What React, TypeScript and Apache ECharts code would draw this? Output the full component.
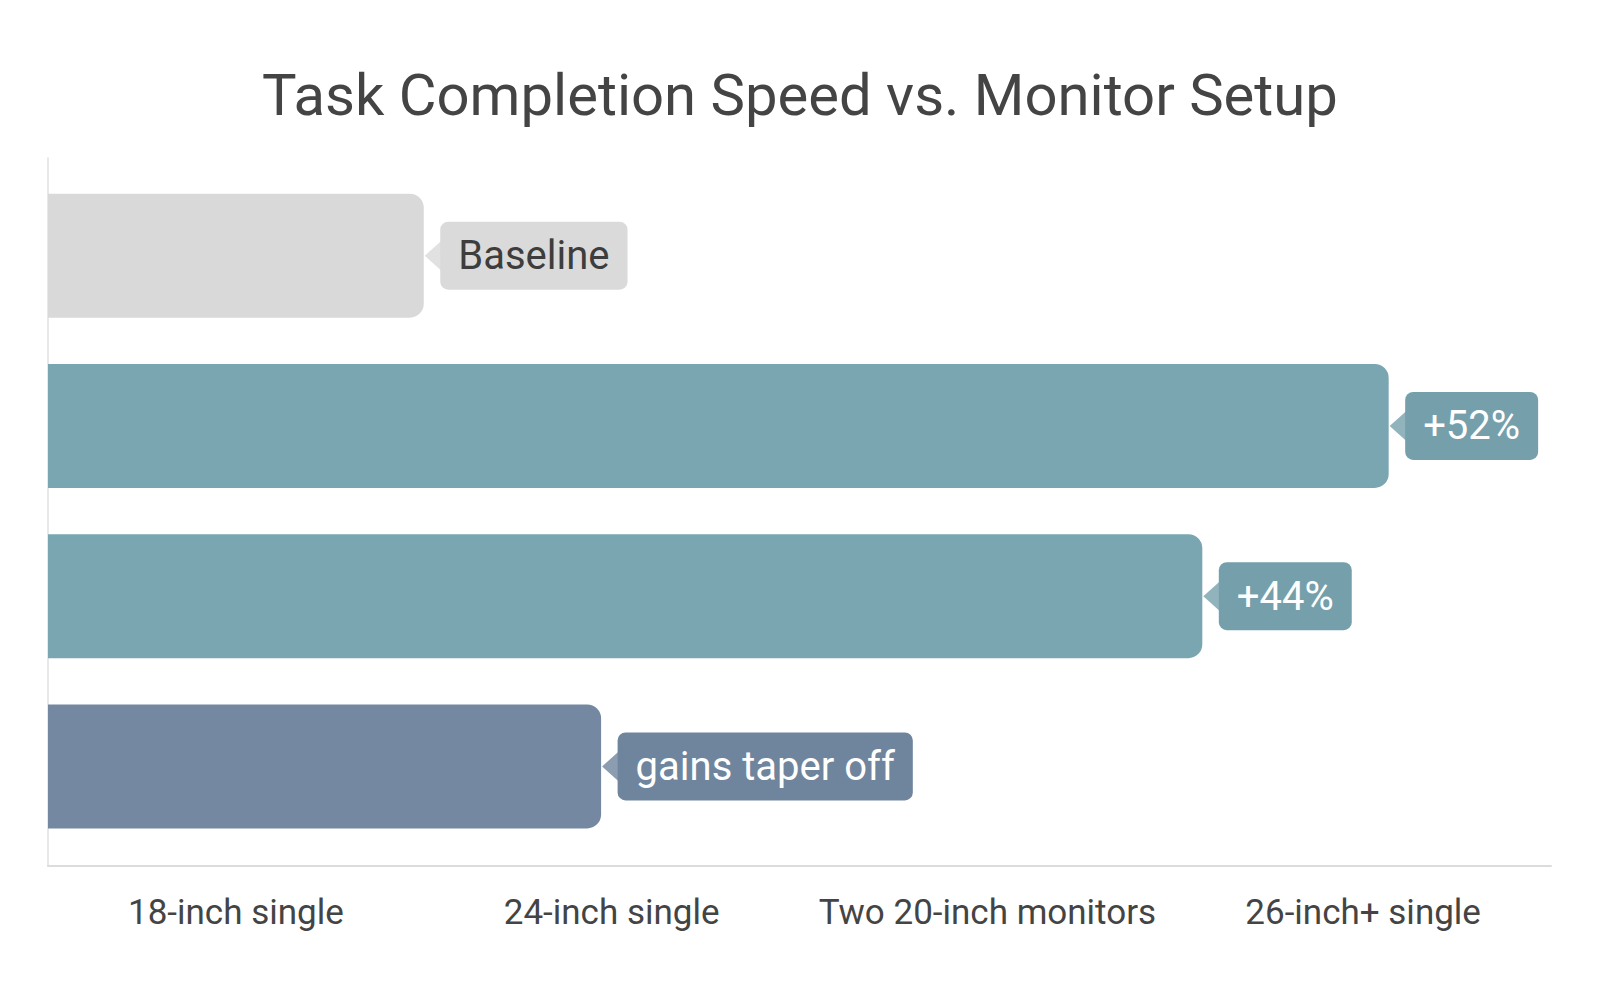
import React, { useEffect, useRef } from 'react';
import * as echarts from 'echarts';

// monitor setups, top bar first
const setups = ['18-inch single', '24-inch single', 'Two 20-inch monitors', '26-inch+ single'];
// bar lengths (share of the axis, 0-100)
const speeds = [25.0, 89.2, 76.8, 36.8];
const callouts = ['Baseline', '+52%', '+44%', 'gains taper off'];

const barColors = ['#d9d9d9', '#79a6b1', '#79a6b1', '#7489a1'];
const boxColors = ['#dadada', '#75a0ab', '#75a0ab', '#6f859d'];
const calloutText = ['#3d3d3d', '#ffffff', '#ffffff', '#ffffff'];

const App: React.FC = () => {
  const chartRef = useRef<HTMLDivElement>(null);

  useEffect(() => {
    document.body.style.margin = '0';
    if (!chartRef.current) return;
    const chart = echarts.init(chartRef.current, undefined, { renderer: 'svg' });

    const option: echarts.EChartsOption = {
      animation: false,
      backgroundColor: '#ffffff',
      textStyle: { fontFamily: 'Roboto' },
      title: {
        text: 'Task Completion Speed vs. Monitor Setup',
        left: 'center',
        top: 61,
        textStyle: {
          fontSize: 58,
          fontWeight: 'normal',
          color: '#444444',
          fontFamily: 'Roboto'
        }
      },
      grid: [
        // axis frame
        { left: 48, right: 49, top: 158, bottom: 134 },
        // bars
        { left: 48, right: 49, top: 170.5, bottom: 148.5 }
      ],
      xAxis: [
        {
          type: 'category',
          gridIndex: 0,
          data: setups,
          boundaryGap: true,
          axisLine: { show: true, lineStyle: { color: '#dcdcdc', width: 2 } },
          axisTick: { show: false },
          axisLabel: {
            color: '#444444',
            fontSize: 35,
            margin: 29,
            interval: 0,
            fontFamily: 'Roboto'
          },
          splitLine: { show: false }
        },
        {
          type: 'value',
          gridIndex: 1,
          min: 0,
          max: 100,
          show: false
        }
      ],
      yAxis: [
        {
          type: 'value',
          gridIndex: 0,
          min: 0,
          max: 1,
          axisLine: { show: true, lineStyle: { color: '#e0e0e0', width: 1.5 } },
          axisTick: { show: false },
          axisLabel: { show: false },
          splitLine: { show: false }
        },
        {
          type: 'category',
          gridIndex: 1,
          data: setups,
          inverse: true,
          show: false
        }
      ],
      series: [
        {
          type: 'bar',
          xAxisIndex: 1,
          yAxisIndex: 1,
          barWidth: 124,
          data: speeds.map((v, i) => ({
            value: v,
            itemStyle: { color: barColors[i], borderRadius: [0, 14, 14, 0] },
            label: {
              show: true,
              position: 'right',
              distance: 16.5,
              formatter: callouts[i],
              color: calloutText[i],
              backgroundColor: boxColors[i],
              fontSize: 40,
              lineHeight: 40,
              padding: [14, 18],
              borderRadius: 8,
              fontFamily: 'Roboto'
            }
          }))
        },
        {
          // callout pointers
          type: 'scatter',
          xAxisIndex: 1,
          yAxisIndex: 1,
          symbol: 'path://M20,0 L0,18 L20,36 Z',
          symbolSize: [20, 36],
          symbolOffset: [11, 0],
          silent: true,
          z: 3,
          data: speeds.map((v, i) => ({
            value: [v, i],
            itemStyle: { color: boxColors[i] }
          }))
        }
      ]
    };

    chart.setOption(option);

    return () => {
      chart.dispose();
    };
  }, []);

  return <div ref={chartRef} style={{ width: '1600px', height: '1000px' }} />;
};

export default App;
